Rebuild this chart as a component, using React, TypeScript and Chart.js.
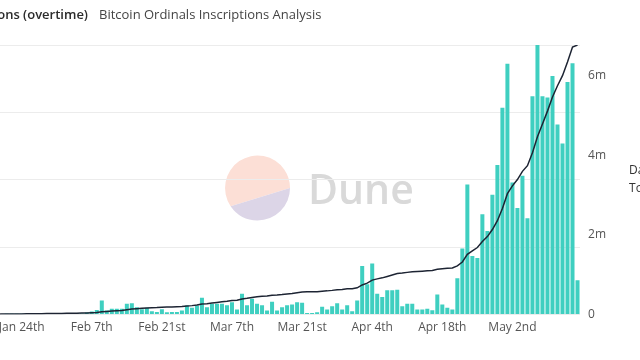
import React, { useEffect, useRef } from "react";
import { Chart, registerables } from "chart.js";

Chart.register(...registerables);

// Categories: daily dates (2023)
const dates: string[] = [
  "01-01","01-02","01-03","01-04","01-05","01-06","01-07","01-08","01-09","01-10",
  "01-11","01-12","01-13","01-14","01-15","01-16","01-17","01-18","01-19","01-20",
  "01-21","01-22","01-23","01-24","01-25","01-26","01-27","01-28","01-29","01-30","01-31",
  "02-01","02-02","02-03","02-04","02-05","02-06","02-07","02-08","02-09","02-10",
  "02-11","02-12","02-13","02-14","02-15","02-16","02-17","02-18","02-19","02-20",
  "02-21","02-22","02-23","02-24","02-25","02-26","02-27","02-28",
  "03-01","03-02","03-03","03-04","03-05","03-06","03-07","03-08","03-09","03-10",
  "03-11","03-12","03-13","03-14","03-15","03-16","03-17","03-18","03-19","03-20",
  "03-21","03-22","03-23","03-24","03-25","03-26","03-27","03-28","03-29","03-30","03-31",
  "04-01","04-02","04-03","04-04","04-05","04-06","04-07","04-08","04-09","04-10",
  "04-11","04-12","04-13","04-14","04-15","04-16","04-17","04-18","04-19","04-20",
  "04-21","04-22","04-23","04-24","04-25","04-26","04-27","04-28","04-29","04-30",
  "05-01","05-02","05-03","05-04","05-05","05-06","05-07","05-08","05-09","05-10",
  "05-11","05-12","05-13","05-14","05-15",
];

// Daily inscriptions (thousands)
const dailyInscriptions: number[] = [
  // Jan
  0.2,0.3,0.2,0.4,0.3,0.5,0.4,0.3,0.6,0.5,0.7,0.6,0.8,0.7,0.9,1.0,0.8,1.1,1.2,1.0,
  1.3,1.1,1.4,1.2,1.5,1.3,1.6,1.4,1.7,1.5,1.8,
  // Feb
  2.0,2.2,1.8,2.5,1.5,3.0,4.5,7,21,6,8.5,8.5,8.5,16,17,11,8,10,5,4,8,3.5,4,4,6,13.5,10,13.5,
  // Mar
  25,11,16,16,16,14,18.5,7.5,31,14,23.5,16,14,6,19,6,11,14,15,18.5,17.5,2.5,2.5,3.5,
  11.5,7.5,12.5,17,7.5,14,5,
  // Apr
  21,72,45,76,31,26,36,36,37,12.5,16,16,7.5,7.5,8.5,6.5,30,15,10,7.5,54,98,193,87,84,
  149,124,178,222,307,
  // May
  372,196,158,206,143,324,400,324,322,354,282,254,345,373,51,
];

// Total inscriptions (thousands)
const totalInscriptions: number[] = [
  // Jan
  0.2,0.5,0.7,1.1,1.4,1.9,2.3,2.6,3.2,3.7,4.4,5.0,5.8,6.5,7.4,8.4,9.2,10.3,11.5,12.5,
  13.8,14.9,16.3,17.5,19.0,20.3,21.9,23.3,25.0,26.5,28.3,
  // Feb
  30.3,32.5,34.3,36.8,38.3,41.3,45.8,52.8,73.8,79.8,88.3,96.8,105.3,121.3,138.3,149.3,
  157.3,167.3,172.3,176.3,184.3,187.8,191.8,195.8,201.8,215.3,225.3,238.8,
  // Mar
  263.8,274.8,290.8,306.8,322.8,336.8,355.3,362.8,393.8,407.8,431.3,447.3,461.3,467.3,
  486.3,492.3,503.3,517.3,532.3,550.8,568.3,570.8,573.3,576.8,588.3,595.8,608.3,625.3,
  632.8,646.8,651.8,
  // Apr
  672.8,744.8,789.8,865.8,896.8,922.8,958.8,994.8,1031.8,1044.3,1060.3,1076.3,1083.8,
  1091.3,1099.8,1106.3,1136.3,1151.3,1161.3,1168.8,1222.8,1320.8,1513.8,1600.8,1684.8,
  1833.8,1957.8,2135.8,2357.8,2664.8,
  // May
  3036.8,3232.8,3390.8,3596.8,3739.8,4063.8,4463.8,4787.8,5109.8,5463.8,5745.8,5999.8,
  6344.8,6717.8,6768.8,
];

const tickDates: string[] = ["01-10","01-24","02-07","02-21","03-07","03-21","04-04","04-18","05-02"];
const tickLabels: string[] = ["Jan 10th","Jan 24th","Feb 7th","Feb 21st","Mar 7th","Mar 21st","Apr 4th","Apr 18th","May 2nd"];
const leftTickValues: number[] = [0, 100, 200, 300, 400];
const rightTickValues: number[] = [0, 2000, 4000, 6000];

const seriesNames: string[] = ["Daily Inscriptions", "Total Inscriptions"];
const titleText = "Inscriptions (overtime)";
const subtitleText = "Bitcoin Ordinals Inscriptions Analysis";

const FONT = "'Open Sans', 'Noto Sans', sans-serif";
const OFFSET = 164; // canvas shifted left (the reference is a crop)
const TARGET_RIGHT = 744; // chart area right edge, canvas px
const CANVAS_W = 900;

const watermark = {
  id: "duneWatermark",
  beforeDraw(chart: any) {
    const { ctx, chartArea } = chart;
    const cx = chartArea.right - 322.5;
    const cy = chartArea.top + 143;
    const r = 32.5;
    const a = 2.545;
    ctx.save();
    ctx.beginPath();
    ctx.arc(cx, cy, r, a, Math.PI * 2);
    ctx.closePath();
    ctx.fillStyle = "#fcdfd6";
    ctx.fill();
    ctx.beginPath();
    ctx.arc(cx, cy, r, 0, a);
    ctx.closePath();
    ctx.fillStyle = "#dcd5e7";
    ctx.fill();
    ctx.font = `600 41px ${FONT}`;
    ctx.fillStyle = "#d9d9d9";
    ctx.textBaseline = "alphabetic";
    ctx.textAlign = "left";
    ctx.fillText("Dune", chartArea.right - 272, chartArea.top + 159);
    ctx.restore();
  },
};

export default function App() {
  const ref = useRef<HTMLCanvasElement | null>(null);

  useEffect(() => {
    document.body.style.margin = "0";
    const canvas = ref.current!;
    const chart = new Chart(canvas, {
      type: "bar",
      data: {
        labels: dates,
        datasets: [
          {
            type: "bar",
            label: seriesNames[0],
            data: dailyInscriptions,
            backgroundColor: "#3fcfc0",
            borderWidth: 0,
            barPercentage: 0.8,
            categoryPercentage: 1,
            yAxisID: "y",
            order: 1,
          },
          {
            type: "line",
            label: seriesNames[1],
            data: totalInscriptions,
            borderColor: "#1d2433",
            borderWidth: 1.5,
            pointRadius: 0,
            tension: 0,
            fill: false,
            yAxisID: "y1",
            order: 0,
          } as any,
        ],
      },
      options: {
        animation: false,
        responsive: false,
        maintainAspectRatio: false,
        devicePixelRatio: 1,
        layout: { padding: { top: 45, bottom: 19, left: 0, right: 0 } },
        plugins: {
          title: { display: false },
          tooltip: { enabled: false },
          legend: {
            display: true,
            position: "right",
            align: "center",
            fullSize: false,
            labels: {
              boxWidth: 10,
              boxHeight: 12,
              padding: 6,
              color: "#333",
              font: { size: 12, family: FONT },
              sort: (a: any, b: any) => a.datasetIndex - b.datasetIndex,
              generateLabels: (c: any) =>
                Chart.defaults.plugins.legend.labels
                  .generateLabels(c)
                  .map((l: any) => ({
                    ...l,
                    fillStyle: "rgba(0,0,0,0)",
                    strokeStyle: "rgba(0,0,0,0)",
                    lineWidth: 0,
                  })),
            },
          },
        },
        scales: {
          x: {
            type: "category",
            grid: { display: false, drawTicks: false },
            border: { display: false },
            ticks: {
              autoSkip: false,
              maxRotation: 0,
              minRotation: 0,
              padding: 6,
              color: "#555",
              font: { size: 12, family: FONT },
              callback: (_v: any, i: number) => {
                const k = tickDates.indexOf(dates[i]);
                return k >= 0 ? tickLabels[k] : "";
              },
            },
          },
          y: {
            position: "left",
            min: 0,
            max: 400,
            grid: { color: "#ececec", drawTicks: false },
            border: { display: false },
            afterBuildTicks: (s: any) => {
              s.ticks = leftTickValues.map((value) => ({ value }));
            },
            ticks: {
              padding: 8,
              color: "#555",
              font: { size: 12, family: FONT },
              callback: (v: any) => (v === 0 ? "0" : `${v}k`),
            },
            afterFit: (s: any) => {
              s.width = 68;
            },
          },
          y1: {
            position: "right",
            min: 0,
            max: 6770,
            grid: { display: false, drawTicks: false },
            border: { display: false },
            afterBuildTicks: (s: any) => {
              s.ticks = rightTickValues.map((value) => ({ value }));
            },
            ticks: {
              padding: 8,
              color: "#555",
              font: { size: 12, family: FONT },
              callback: (v: any) => (v === 0 ? "0" : `${v / 1000}m`),
            },
            afterFit: (s: any) => {
              s.width = 27;
            },
          },
        },
      },
      plugins: [watermark],
    });

    const delta = chart.chartArea.right - TARGET_RIGHT;
    if (Math.abs(delta) > 0.5) {
      chart.resize(Math.round(CANVAS_W - delta), 360);
    }

    return () => chart.destroy();
  }, []);

  return (
    <div
      style={{
        position: "fixed",
        left: 0,
        top: 0,
        width: 640,
        height: 360,
        overflow: "hidden",
        background: "#fff",
        fontFamily: FONT,
      }}
    >
      <div style={{ position: "absolute", left: -OFFSET, top: 0 }}>
        <canvas ref={ref} width={CANVAS_W} height={360} style={{ display: "block" }} />
      </div>
      <div
        style={{
          position: "absolute",
          right: 640 - 88,
          top: 5,
          whiteSpace: "nowrap",
          fontWeight: 600,
          fontSize: 13,
          lineHeight: "18px",
          color: "#2b2b2b",
        }}
      >
        {titleText}
      </div>
      <div
        style={{
          position: "absolute",
          left: 99,
          top: 5,
          whiteSpace: "nowrap",
          fontSize: 13,
          lineHeight: "18px",
          color: "#444",
        }}
      >
        {subtitleText}
      </div>
    </div>
  );
}
